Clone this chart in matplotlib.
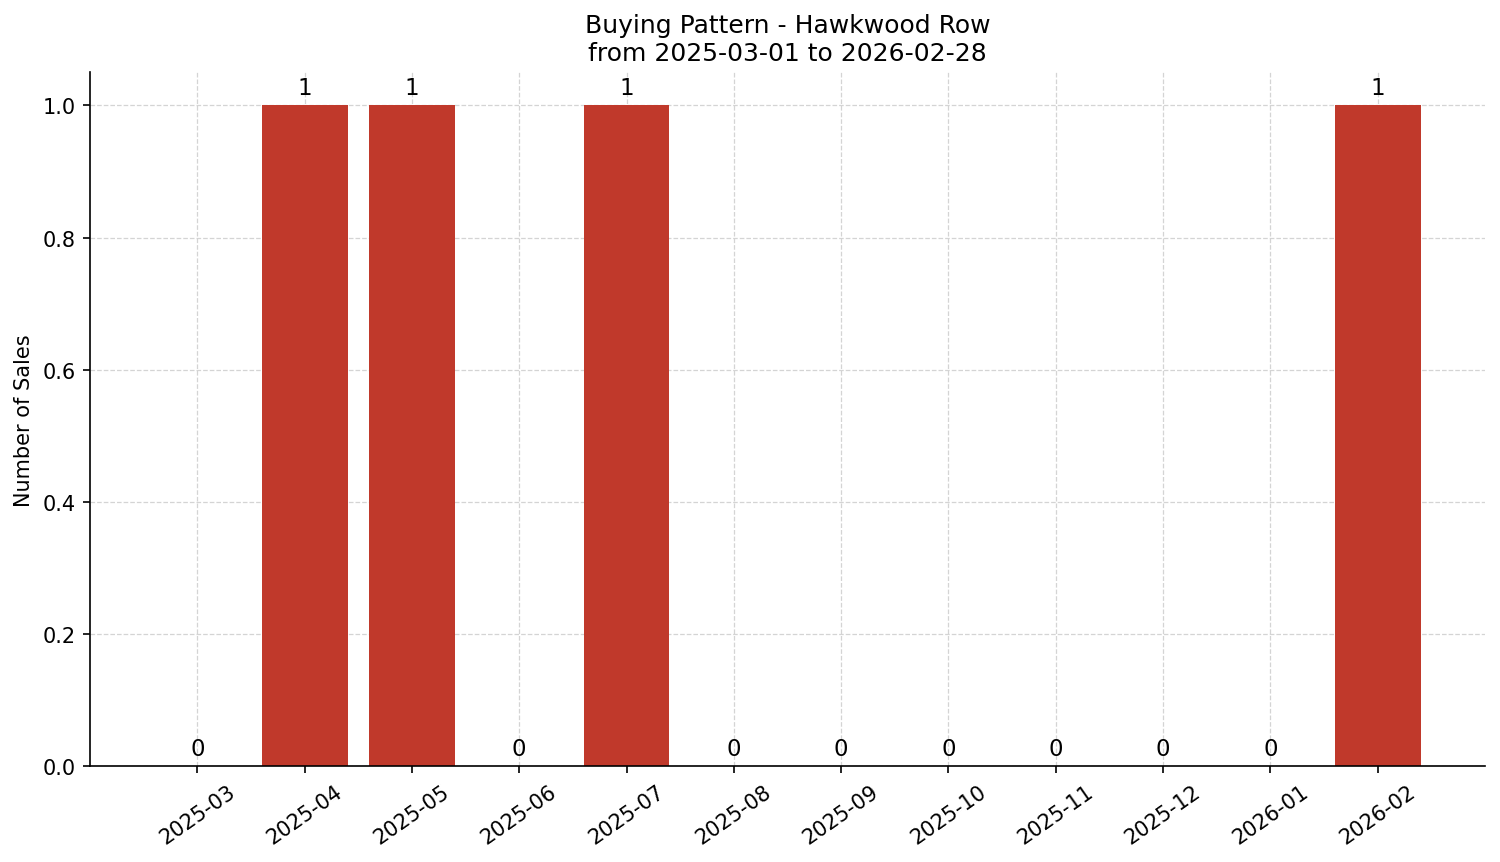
import matplotlib
matplotlib.use("Agg")
import matplotlib.pyplot as plt

months = ["2025-03", "2025-04", "2025-05", "2025-06", "2025-07", "2025-08",
          "2025-09", "2025-10", "2025-11", "2025-12", "2026-01", "2026-02"]
sales = [0, 1, 1, 0, 1, 0, 0, 0, 0, 0, 0, 1]

fig, ax = plt.subplots(figsize=(10.0, 5.753), dpi=150)
fig.subplots_adjust(left=0.06, right=0.99, top=0.915, bottom=0.111)

x = list(range(len(months)))
bars = ax.bar(x, sales, width=0.8, color="#c0392b", zorder=2)
for xi, v in zip(x, sales):
    ax.text(xi, v + 0.01, str(v), ha="center", va="bottom", fontsize=11)

ax.set_xticks(x)
ax.set_xticklabels(months, rotation=35, ha="center")
ax.set_xlim(-1.0, 12.0)
ax.set_ylim(0, 1.05)
ax.set_ylabel("Number of Sales")
ax.set_title("Buying Pattern - Hawkwood Row\nfrom 2025-03-01 to 2026-02-28", fontsize=12)
ax.grid(True, linestyle="--", linewidth=0.6, color="#d0d0d0", alpha=0.9, zorder=0)
ax.spines["top"].set_visible(False)
ax.spines["right"].set_visible(False)

fig.savefig("out.png", dpi=150)
